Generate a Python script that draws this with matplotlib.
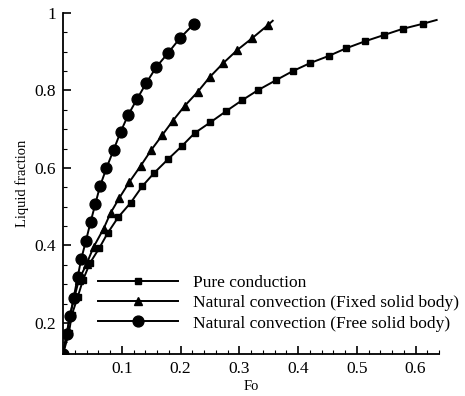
import matplotlib
matplotlib.use("Agg")
import matplotlib.pyplot as plt
from matplotlib.ticker import MultipleLocator, FixedLocator

plt.rcParams['font.family'] = ['Liberation Serif', 'DejaVu Serif']
plt.rcParams['mathtext.fontset'] = 'stix'

# Pure conduction (squares); last point is the line end without marker
cond_x = [0.0, 0.010, 0.015, 0.025, 0.034, 0.046, 0.062, 0.076, 0.094, 0.115,
          0.135, 0.155, 0.179, 0.202, 0.224, 0.251, 0.278, 0.305, 0.332, 0.363,
          0.391, 0.421, 0.452, 0.482, 0.514, 0.546, 0.578, 0.612, 0.636]
cond_y = [0.12, 0.174, 0.221, 0.267, 0.311, 0.355, 0.394, 0.432, 0.473, 0.510,
          0.553, 0.587, 0.623, 0.656, 0.690, 0.718, 0.747, 0.775, 0.801, 0.827,
          0.850, 0.871, 0.889, 0.909, 0.927, 0.943, 0.959, 0.972, 0.982]

# Natural convection, fixed solid body (triangles)
fixed_x = [0.0, 0.007, 0.012, 0.019, 0.027, 0.040, 0.052, 0.069, 0.081, 0.096,
           0.113, 0.132, 0.150, 0.169, 0.187, 0.207, 0.229, 0.250, 0.273, 0.297,
           0.322, 0.349, 0.357]
fixed_y = [0.12, 0.174, 0.221, 0.264, 0.311, 0.352, 0.396, 0.443, 0.484, 0.523,
           0.564, 0.605, 0.646, 0.685, 0.722, 0.760, 0.796, 0.835, 0.871, 0.905,
           0.935, 0.969, 0.980]

# Natural convection, free solid body (circles)
free_x = [0.0, 0.006, 0.012, 0.018, 0.025, 0.031, 0.039, 0.047, 0.055, 0.063,
          0.074, 0.086, 0.098, 0.111, 0.126, 0.142, 0.159, 0.179, 0.199, 0.223]
free_y = [0.12, 0.172, 0.218, 0.264, 0.319, 0.365, 0.412, 0.461, 0.507, 0.553,
          0.600, 0.646, 0.693, 0.737, 0.778, 0.820, 0.861, 0.897, 0.935, 0.972]

labels = ["Pure conduction",
          "Natural convection (Fixed solid body)",
          "Natural convection (Free solid body)"]

fig = plt.figure(figsize=(4.65, 3.96), dpi=100)
ax = fig.add_axes([63/465, 1-354/396, 376/465, 341/396])

ax.plot(cond_x, cond_y, color='black', lw=1.4, marker='s', ms=5,
        markevery=slice(0, len(cond_x)-1), label=labels[0])
ax.plot(fixed_x, fixed_y, color='black', lw=1.4, marker='^', ms=5.5,
        markevery=slice(0, len(fixed_x)-1), label=labels[1])
ax.plot(free_x, free_y, color='black', lw=1.4, marker='o', ms=7.8,
        label=labels[2])

ax.set_xlim(0, 0.64)
ax.set_ylim(0.12, 1.0)
ax.xaxis.set_major_locator(FixedLocator([0.1, 0.2, 0.3, 0.4, 0.5, 0.6]))
ax.xaxis.set_minor_locator(MultipleLocator(0.02))
ax.yaxis.set_major_locator(FixedLocator([0.2, 0.4, 0.6, 0.8, 1.0]))
ax.yaxis.set_minor_locator(MultipleLocator(0.05))
ax.set_xticklabels(["0.1", "0.2", "0.3", "0.4", "0.5", "0.6"])
ax.set_yticklabels(["0.2", "0.4", "0.6", "0.8", "1"])

for s in ['top', 'right']:
    ax.spines[s].set_visible(False)
for s in ['left', 'bottom']:
    ax.spines[s].set_linewidth(1.3)

ax.tick_params(which='major', direction='in', length=6, width=1.2,
               labelsize=12.5, pad=5)
ax.tick_params(which='minor', direction='in', length=3, width=0.8)

ax.set_xlabel("Fo", fontsize=10.5, labelpad=2)
ax.set_ylabel("Liquid fraction", fontsize=10.5, labelpad=4)

ax.legend(loc='center left', bbox_to_anchor=((98-63)/376, (354-303)/341),
          frameon=False, fontsize=12.5, handlelength=4.6, handletextpad=0.9,
          labelspacing=0.25, borderpad=0, borderaxespad=0)

fig.savefig("out.png", dpi=100)
